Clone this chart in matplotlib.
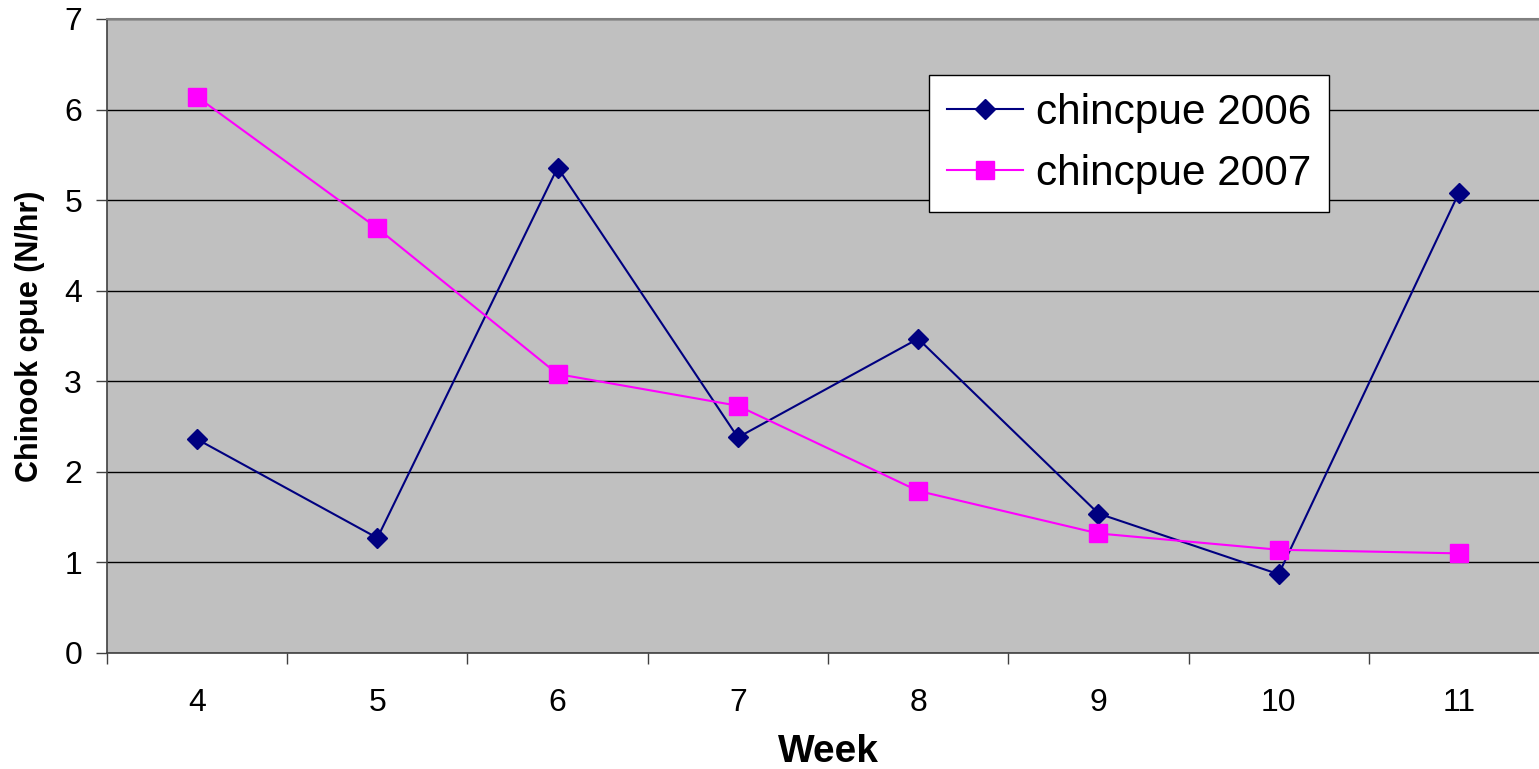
import numpy as np
import matplotlib.pyplot as plt
from matplotlib.ticker import FixedLocator

plt.rcParams['font.family'] = ['Liberation Sans', 'DejaVu Sans']

# dati
weeks = [4, 5, 6, 7, 8, 9, 10, 11]
cpue_2006 = [2.36, 1.27, 5.36, 2.38, 3.47, 1.54, 0.87, 5.08]
cpue_2007 = [6.14, 4.69, 3.08, 2.73, 1.79, 1.32, 1.14, 1.10]

fig = plt.figure(figsize=(15.39, 7.69), dpi=100)
# l'area del grafico esce un po' a destra, come nell'originale
ax = fig.add_axes([107 / 1539, 1 - 653 / 769, 1442 / 1539, 634 / 769])
ax.set_facecolor('#C0C0C0')

x = np.arange(len(weeks))
ax.plot(x, cpue_2006, color='#000080', lw=1.5, marker='D', markersize=10,
        markerfacecolor='#000080', markeredgecolor='#000080', label='chincpue 2006', zorder=3)
ax.plot(x, cpue_2007, color='#FF00FF', lw=1.5, marker='s', markersize=13.5,
        markerfacecolor='#FF00FF', markeredgecolor='#FF00FF', label='chincpue 2007', zorder=3)

ax.set_xlim(-0.5, len(weeks) - 0.5)
ax.set_ylim(0, 7)

ax.set_yticks(range(8))
ax.yaxis.grid(True, color='black', lw=1)
ax.set_axisbelow(True)

ax.set_xticks(x)
ax.set_xticklabels([str(w) for w in weeks])
ax.xaxis.set_minor_locator(FixedLocator(np.arange(-0.5, len(weeks), 1)))
ax.tick_params(axis='x', which='major', length=0, pad=25, labelsize=23)
ax.tick_params(axis='x', which='minor', length=8, width=1, direction='out', color='#404040')
ax.tick_params(axis='y', length=8, width=1, direction='out', pad=10, labelsize=23, color='#404040')

for s in ['left', 'bottom']:
    ax.spines[s].set_color('#404040')
    ax.spines[s].set_linewidth(1.2)
ax.spines['top'].set_color('#808080')
ax.spines['top'].set_linewidth(1.5)
ax.spines['right'].set_visible(False)

ax.set_xlabel('Week', fontsize=28, fontweight='bold', labelpad=12)
ax.set_ylabel('Chinook cpue (N/hr)', fontsize=22, fontweight='bold', labelpad=14)

leg = ax.legend(loc='upper left', bbox_to_anchor=((929 - 107) / 1442, (653 - 75) / 634),
                borderaxespad=0, fontsize=30.5, frameon=True, fancybox=False, framealpha=1,
                edgecolor='black', borderpad=0.42, handlelength=1.8,
                handletextpad=0.3, labelspacing=0.5)
leg.get_frame().set_linewidth(1)

fig.savefig('out.png', dpi=100)
